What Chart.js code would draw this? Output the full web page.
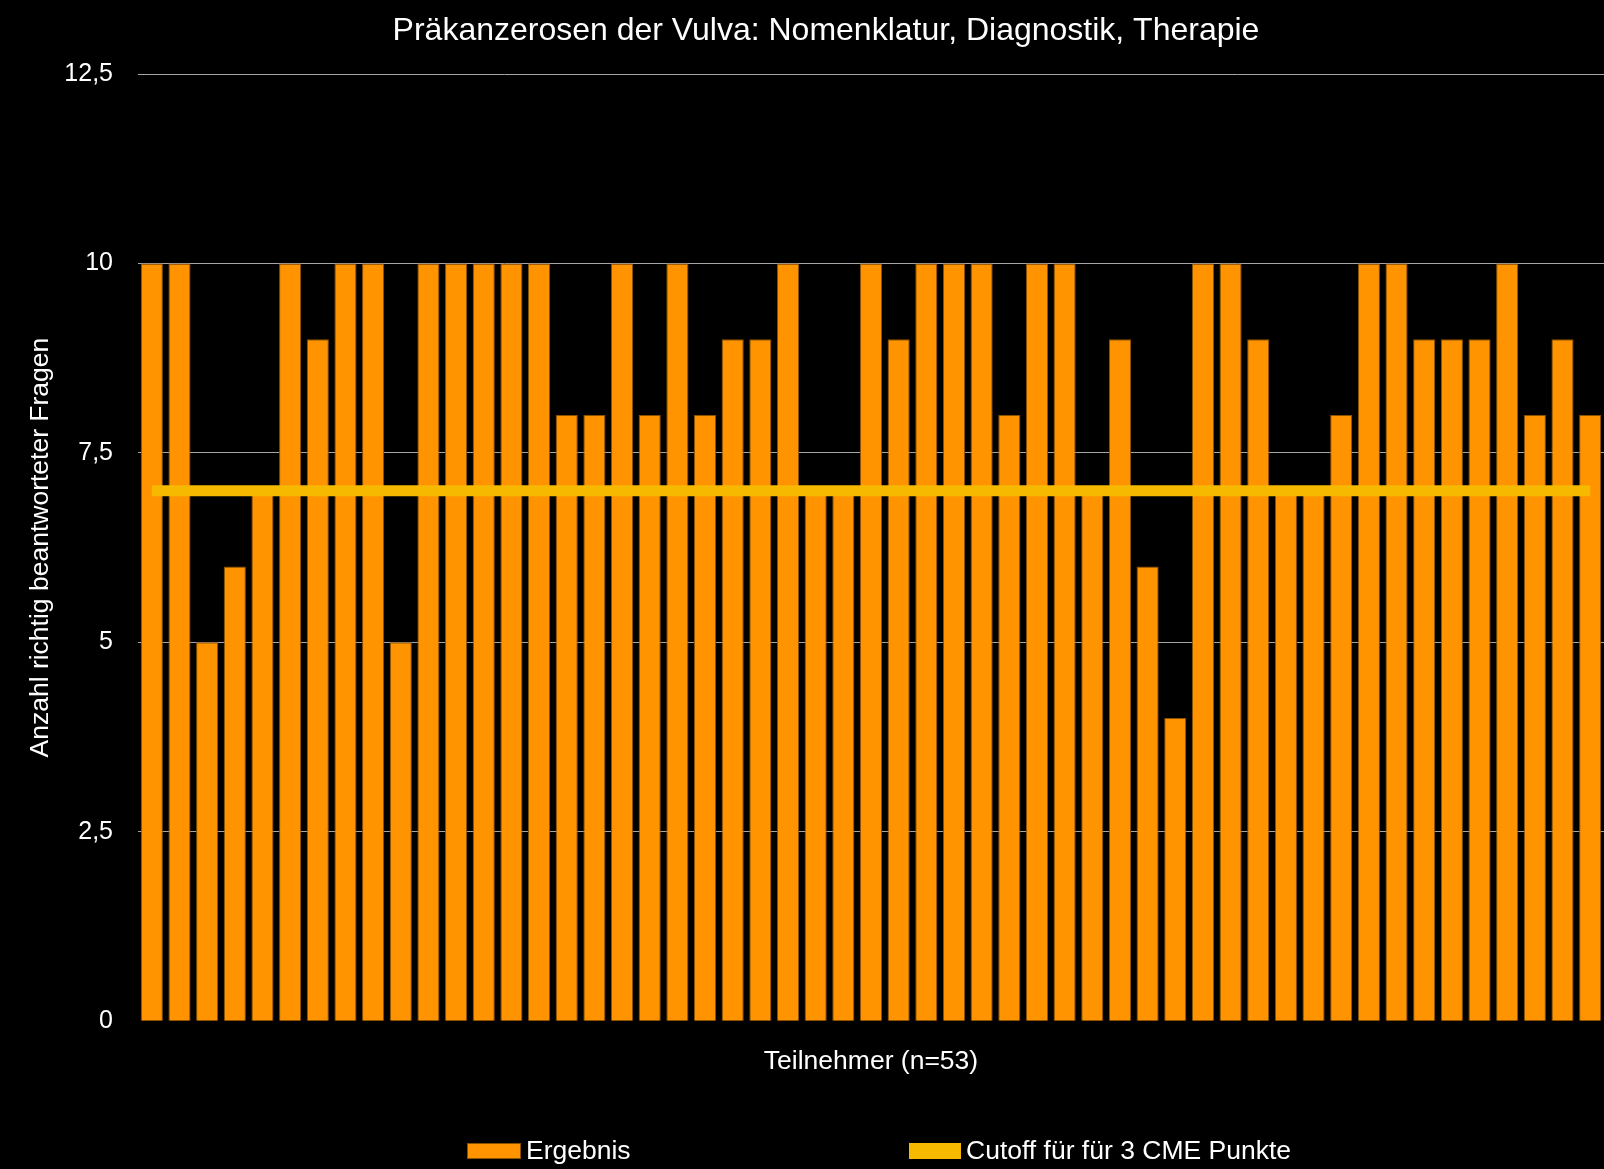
<!DOCTYPE html>
<html>
<head>
<meta charset="utf-8">
<script src="https://cdn.jsdelivr.net/npm/chart.js"></script>
<style>
  body { margin: 0; background: #000; overflow: hidden; }
  canvas { display: block; }
</style>
</head>
<body>
<canvas id="grafica" width="1604" height="1169"></canvas>
<script>
const titulo = "Präkanzerosen der Vulva: Nomenklatur, Diagnostik, Therapie";
const tituloY = "Anzahl richtig beantworteter Fragen";
const tituloX = "Teilnehmer (n=53)";

const teilnehmer = ["1","2","3","4","5","6","7","8","9","10",
  "11","12","13","14","15","16","17","18","19","20",
  "21","22","23","24","25","26","27","28","29","30",
  "31","32","33","34","35","36","37","38","39","40",
  "41","42","43","44","45","46","47","48","49","50",
  "51","52","53"];

const ergebnis = [10,10,5,6,7,10,9,10,10,5,
  10,10,10,10,10,8,8,10,8,10,
  8,9,9,10,7,7,10,9,10,10,
  10,8,10,10,7,9,6,4,10,10,
  9,7,7,8,10,10,9,9,9,10,
  8,9,8];

const cutoff = [7,7,7,7,7,7,7,7,7,7,
  7,7,7,7,7,7,7,7,7,7,
  7,7,7,7,7,7,7,7,7,7,
  7,7,7,7,7,7,7,7,7,7,
  7,7,7,7,7,7,7,7,7,7,
  7,7,7];

const yWerte = [0, 2.5, 5, 7.5, 10, 12.5];
const yEtiketten = ["0", "2,5", "5", "7,5", "10", "12,5"];

const schrift = "'Liberation Sans', Arial, sans-serif";

// titel und legende von hand, wie im original
const textePlugin = {
  id: "texte",
  afterDraw(chart) {
    const ctx = chart.ctx;
    ctx.save();
    ctx.fillStyle = "#ffffff";
    ctx.font = "32px " + schrift;
    ctx.textAlign = "center";
    ctx.textBaseline = "middle";
    ctx.fillText(titulo, 826, 31);

    const pos = [
      { x: 467, w: 54, tx: 526 },
      { x: 909, w: 52, tx: 966 }
    ];
    ctx.font = "26.5px " + schrift;
    ctx.textAlign = "left";
    chart.data.datasets.forEach((ds, i) => {
      const p = pos[i];
      ctx.fillStyle = ds.legendColor;
      ctx.fillRect(p.x, 1143, p.w, 16);
      if (ds.type === "bar") {
        ctx.strokeStyle = ds.borderColor;
        ctx.lineWidth = 1;
        ctx.strokeRect(p.x + 0.5, 1143.5, p.w - 1, 15);
      }
      ctx.fillStyle = "#ffffff";
      ctx.fillText(ds.label, p.tx, 1152);
    });
    ctx.restore();
  }
};

new Chart(document.getElementById("grafica"), {
  type: "bar",
  data: {
    labels: teilnehmer,
    datasets: [
      {
        type: "bar",
        label: "Ergebnis",
        data: ergebnis,
        backgroundColor: "#ff9400",
        legendColor: "#ff9400",
        borderColor: "#8a5200",
        borderWidth: 1,
        categoryPercentage: 0.8,
        barPercentage: 1.0,
        order: 2
      },
      {
        type: "line",
        label: "Cutoff für für 3 CME Punkte",
        data: cutoff,
        borderColor: "#f7b800",
        legendColor: "#f7b800",
        borderWidth: 11,
        borderCapStyle: "butt",
        pointRadius: 0,
        fill: false,
        order: 1
      }
    ]
  },
  options: {
    responsive: false,
    animation: false,
    // das original ist rechts abgeschnitten
    layout: { padding: { top: 74, right: -3.5, bottom: 91, left: 0 } },
    plugins: {
      legend: { display: false },
      title: { display: false },
      tooltip: { enabled: false }
    },
    scales: {
      x: {
        grid: { display: false, drawTicks: false },
        border: { display: false },
        ticks: { display: false },
        title: {
          display: true,
          text: tituloX,
          color: "#ffffff",
          font: { family: schrift, size: 26.5 },
          padding: { top: 25, bottom: 0 }
        }
      },
      y: {
        min: 0,
        max: 12.5,
        afterBuildTicks: (s) => { s.ticks = yWerte.map(v => ({ value: v })); },
        afterFit: (s) => { s.width = 138; },
        grid: {
          drawTicks: false,
          color: (c) => c.tick && c.tick.value === 0 ? "rgba(0,0,0,0)" : "#a6a6a6",
          lineWidth: 1
        },
        border: { display: false },
        ticks: {
          color: "#ffffff",
          padding: 25,
          font: { family: schrift, size: 25 },
          callback: (v) => yEtiketten[yWerte.indexOf(v)]
        },
        title: {
          display: true,
          text: tituloY,
          color: "#ffffff",
          font: { family: schrift, size: 26.5 },
          padding: { top: 25, bottom: 0 }
        }
      }
    }
  },
  plugins: [textePlugin]
});
</script>
</body>
</html>
